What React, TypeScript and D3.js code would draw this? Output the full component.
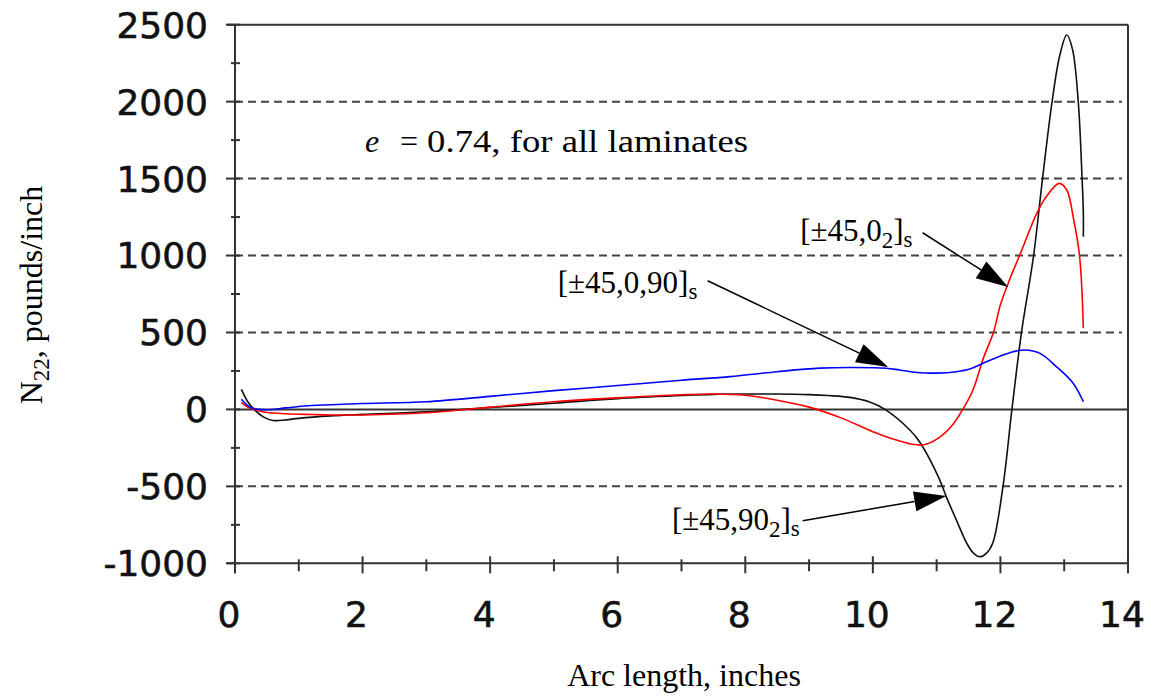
import React from "react";
import * as d3 from "d3";

// ---- data ----
const xTicks = [0, 2, 4, 6, 8, 10, 12, 14];
const yTicks = [-1000, -500, 0, 500, 1000, 1500, 2000, 2500];
const gridValues = [-500, 500, 1000, 1500, 2000];

// [±45,90_2]s  (black)
const blackX = [0.1, 0.2, 0.3, 0.45, 0.6, 0.8, 1.0, 1.5, 2, 3, 4, 5, 6, 7, 7.5, 8, 8.5, 9, 9.3, 9.64, 9.95, 10.19, 10.58, 10.74, 11.05, 11.15, 11.31, 11.47, 11.58, 11.68, 11.78, 11.88, 12.04, 12.18, 12.33, 12.52, 12.66, 12.81, 12.93, 13.04, 13.13, 13.22, 13.28, 13.3, 13.3];
const blackY = [130, 50, 0, -50, -72, -68, -58, -42, -32, -15, 12, 40, 70, 90, 98, 100, 100, 96, 90, 78, 48, 0, -134, -215, -459, -567, -719, -868, -935, -957, -935, -868, -500, 0, 500, 1000, 1500, 2000, 2300, 2433, 2340, 2000, 1500, 1275, 1122];

// [±45,0_2]s  (red)
const redX = [0.1, 0.2, 0.3, 0.5, 0.8, 1.2, 1.5, 2, 3, 4, 5, 6, 7, 7.5, 8, 8.5, 9, 9.5, 10, 10.3, 10.6, 10.8, 11.05, 11.26, 11.41, 11.57, 11.73, 11.89, 12.0, 12.15, 12.3, 12.57, 12.72, 12.92, 13.04, 13.14, 13.24, 13.3];
const redY = [44, 15, 0, -20, -28, -33, -36, -36, -22, 15, 50, 75, 95, 100, 92, 60, 15, -55, -145, -190, -225, -230, -180, -95, 0, 126, 330, 500, 680, 850, 1000, 1274, 1383, 1469, 1426, 1252, 1000, 527];

// [±45,0,90]s  (blue)
const blueX = [0.1, 0.2, 0.3, 0.5, 0.8, 1.2, 1.5, 2, 3, 4, 5, 6, 7, 7.76, 8.5, 9.17, 9.7, 10.21, 10.42, 10.74, 11.0, 11.31, 11.52, 11.73, 11.99, 12.2, 12.38, 12.62, 12.88, 13.14, 13.3];
const blueY = [66, 25, 5, -2, 10, 25, 30, 38, 50, 85, 122, 155, 190, 213, 245, 268, 272, 267, 256, 238, 236, 245, 262, 300, 345, 375, 386, 364, 277, 170, 50];

// annotation anchors (data coordinates)
const arrowFrom = [[10.78, 1148], [7.41, 836], [8.9, -723]];
const arrowTo = [[12.12, 795], [10.24, 276], [11.15, -563]];
const labelMain = ["[\u00b145,0", "[\u00b145,0,90]", "[\u00b145,90"];
const labelSub = ["2", "", "2"];
const labelPos = [[8.86, 1094], [5.06, 756], [6.85, -784]];

const W = 1151;
const H = 697;

export default function App() {
  const x = d3.scaleLinear().domain([0, 14]).range([235, 1128]);
  const y = d3.scaleLinear().domain([-1000, 2500]).range([563.3, 24.7]);

  const line = d3
    .line<[number, number]>()
    .x((d) => x(d[0]))
    .y((d) => y(d[1]))
    .curve(d3.curveCatmullRom.alpha(0.5));

  const series = [
    { xs: blackX, ys: blackY, color: "#111111" },
    { xs: redX, ys: redY, color: "#ff0000" },
    { xs: blueX, ys: blueY, color: "#0000ff" },
  ];

  const axisColor = "#333333";
  const minorY = d3.range(-1000, 2501, 250).filter((v) => v % 500 !== 0);
  const minorX = d3.range(1, 14, 2);

  const tickFont = "'DejaVu Sans', Verdana, sans-serif";
  const serif = "'Liberation Serif', 'Times New Roman', serif";
  const ax = x(2.04);

  return (
    <svg
      width={W}
      height={H}
      style={{ position: "absolute", left: 0, top: 0, background: "#fff" }}
    >
      {/* gridlines */}
      {gridValues.map((v) => (
        <line
          key={"g" + v}
          x1={x(0)}
          x2={x(14) - 6}
          y1={y(v)}
          y2={y(v)}
          stroke="#444"
          strokeWidth={2}
          strokeDasharray="8,5"
        />
      ))}
      {/* zero line */}
      <line x1={x(0)} x2={x(14)} y1={y(0)} y2={y(0)} stroke={axisColor} strokeWidth={2} />
      {/* frame */}
      <line x1={x(0) - 8} x2={x(14)} y1={y(2500)} y2={y(2500)} stroke={axisColor} strokeWidth={2} />
      <line x1={x(0) - 8} x2={x(14)} y1={y(-1000)} y2={y(-1000)} stroke={axisColor} strokeWidth={2} />
      <line x1={x(0)} x2={x(0)} y1={y(2500)} y2={y(-1000) + 10} stroke={axisColor} strokeWidth={2} />
      <line x1={x(14)} x2={x(14)} y1={y(2500)} y2={y(-1000) + 10} stroke={axisColor} strokeWidth={2} />

      {/* y ticks */}
      {yTicks.map((v) => (
        <line key={"yt" + v} x1={x(0) - 9} x2={x(0) + 5} y1={y(v)} y2={y(v)} stroke={axisColor} strokeWidth={2} />
      ))}
      {minorY.map((v) => (
        <line key={"ym" + v} x1={x(0) - 4} x2={x(0) + 5} y1={y(v)} y2={y(v)} stroke={axisColor} strokeWidth={2} />
      ))}
      {/* x ticks */}
      {xTicks.map((v) => (
        <line key={"xt" + v} x1={x(v)} x2={x(v)} y1={y(-1000) - 7} y2={y(-1000) + 10} stroke={axisColor} strokeWidth={2} />
      ))}
      {minorX.map((v) => (
        <line key={"xm" + v} x1={x(v)} x2={x(v)} y1={y(-1000) - 4} y2={y(-1000) + 8} stroke={axisColor} strokeWidth={2} />
      ))}

      {/* tick labels */}
      {yTicks.map((v) => (
        <text
          key={"yl" + v}
          x={208}
          y={y(v)}
          dy="0.36em"
          textAnchor="end"
          fontFamily={tickFont}
          fontSize={36}
          fill="#111"
          stroke="#111"
          strokeWidth={0.6}
        >
          {v}
        </text>
      ))}
      {xTicks.map((v) => (
        <text
          key={"xl" + v}
          x={x(v) - 6}
          y={627}
          textAnchor="middle"
          fontFamily={tickFont}
          fontSize={36}
          fill="#111"
          stroke="#111"
          strokeWidth={0.6}
        >
          {v}
        </text>
      ))}

      {/* series */}
      {series.map((s, i) => (
        <path
          key={"s" + i}
          d={line(s.xs.map((xv, j) => [xv, s.ys[j]] as [number, number])) || ""}
          fill="none"
          stroke={s.color}
          strokeWidth={1.6}
        />
      ))}

      {/* arrows */}
      {arrowFrom.map((f, i) => {
        const t = arrowTo[i];
        const x1 = x(f[0]);
        const y1 = y(f[1]);
        const x2 = x(t[0]);
        const y2 = y(t[1]);
        const ang = Math.atan2(y2 - y1, x2 - x1);
        const len = 32;
        const hw = 10;
        const bx = x2 - len * Math.cos(ang);
        const by = y2 - len * Math.sin(ang);
        const px = -Math.sin(ang) * hw;
        const py = Math.cos(ang) * hw;
        return (
          <g key={"a" + i}>
            <line x1={x1} y1={y1} x2={bx} y2={by} stroke="#000" strokeWidth={1.5} />
            <polygon
              points={`${x2},${y2} ${bx + px},${by + py} ${bx - px},${by - py}`}
              fill="#000"
            />
          </g>
        );
      })}

      {/* series labels */}
      {labelPos.map((p, i) => (
        <text key={"lb" + i} x={x(p[0])} y={y(p[1])} fontFamily={serif} fontSize={31} fill="#000">
          {labelMain[i]}
          {labelSub[i] ? (
            <>
              <tspan fontSize={23} dy={7}>{labelSub[i]}</tspan>
              <tspan dy={-7}>]</tspan>
            </>
          ) : null}
          <tspan fontSize={23} dy={6}>s</tspan>
        </text>
      ))}

      {/* annotation */}
      <text x={ax} y={y(1675)} fontFamily={serif} fontSize={32} fill="#000">
        <tspan fontStyle="italic">e</tspan>
        <tspan x={ax + 35}>=</tspan>
        <tspan x={ax + 62} textLength={321} lengthAdjust="spacingAndGlyphs">
          0.74, for all laminates
        </tspan>
      </text>

      {/* axis titles */}
      <text x={684} y={686} textAnchor="middle" fontFamily={serif} fontSize={32} fill="#000">
        Arc length, inches
      </text>
      <text
        transform="translate(42,295) rotate(-90)"
        textAnchor="middle"
        fontFamily={serif}
        fontSize={32}
        fill="#000"
      >
        N<tspan fontSize={23} dy={7}>22</tspan>
        <tspan dy={-7}>, pounds/inch</tspan>
      </text>
    </svg>
  );
}
